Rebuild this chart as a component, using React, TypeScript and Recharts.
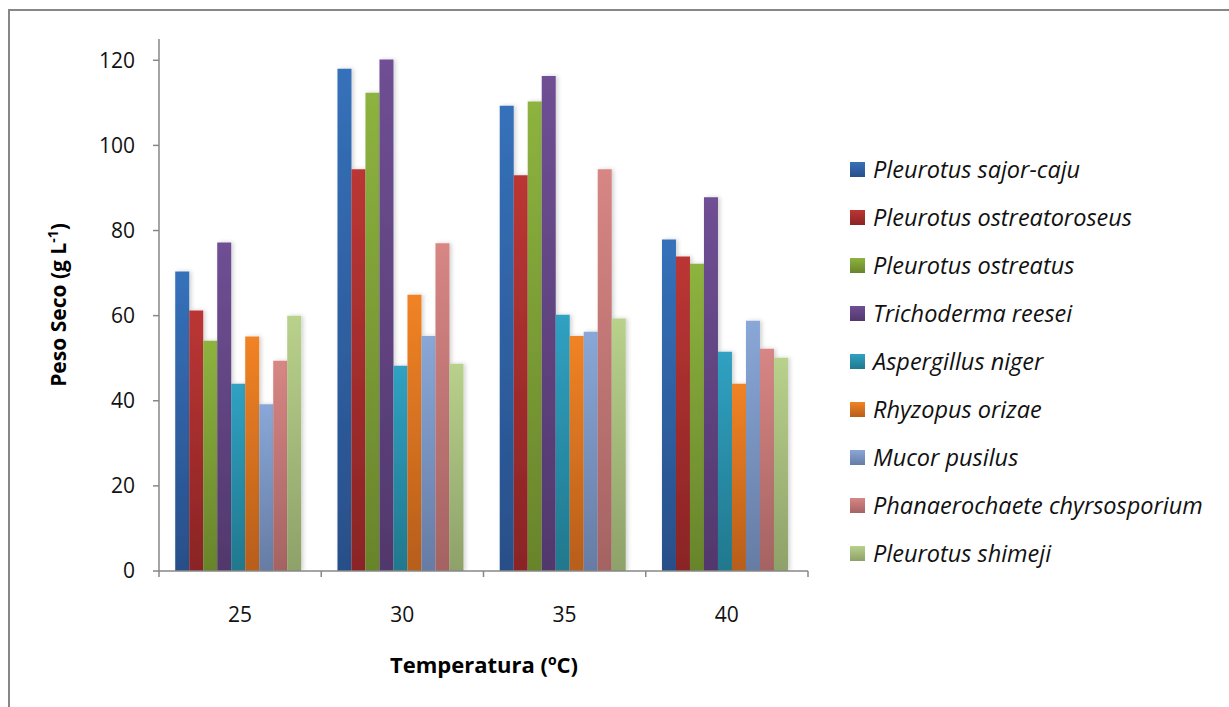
import React from 'react';
import { BarChart, Bar, XAxis, YAxis } from 'recharts';

// temperatures (°C)
const temperatures = ['25', '30', '35', '40'];

// dry weight (g/L) per fungus, one value per temperature
const sajorCaju = [70.4, 118.0, 109.3, 77.9];
const ostreatoroseus = [61.2, 94.4, 93.0, 73.9];
const ostreatus = [54.1, 112.4, 110.3, 72.2];
const reesei = [77.2, 120.2, 116.3, 87.8];
const niger = [44.0, 48.2, 60.2, 51.5];
const orizae = [55.1, 64.9, 55.2, 44.0];
const pusilus = [39.2, 55.2, 56.2, 58.8];
const chrysosporium = [49.4, 77.0, 94.4, 52.2];
const shimeji = [60.0, 48.7, 59.3, 50.1];

const yTicks = [0, 20, 40, 60, 80, 100, 120];

const series = [
  { key: 'sajorCaju', name: 'Pleurotus sajor-caju', values: sajorCaju, top: '#3571ba', bottom: '#284f89' },
  { key: 'ostreatoroseus', name: 'Pleurotus ostreatoroseus', values: ostreatoroseus, top: '#bb3634', bottom: '#8a2425' },
  { key: 'ostreatus', name: 'Pleurotus ostreatus', values: ostreatus, top: '#8db33f', bottom: '#68842b' },
  { key: 'reesei', name: 'Trichoderma reesei', values: reesei, top: '#6f4f94', bottom: '#51386c' },
  { key: 'niger', name: 'Aspergillus niger', values: niger, top: '#30a1c2', bottom: '#21788d' },
  { key: 'orizae', name: 'Rhyzopus orizae', values: orizae, top: '#f18325', bottom: '#b75e1b' },
  { key: 'pusilus', name: 'Mucor pusilus', values: pusilus, top: '#89a7d7', bottom: '#667ca4' },
  { key: 'chrysosporium', name: 'Phanaerochaete chyrsosporium', values: chrysosporium, top: '#d78684', bottom: '#a46362' },
  { key: 'shimeji', name: 'Pleurotus shimeji', values: shimeji, top: '#b8d18b', bottom: '#8ea169' },
];

const data = temperatures.map((t, i) => {
  const row: Record<string, string | number> = { temp: t };
  series.forEach(s => { row[s.key] = s.values[i]; });
  return row;
});

const W = 1229;
const H = 707;
const X_AXIS_H = 136;
const margin = { top: 39, right: 421, bottom: 0, left: 0 };
const Y_AXIS_W = 159;
const PLOT_W = W - margin.left - margin.right - Y_AXIS_W;
const BAND = PLOT_W / temperatures.length;
const AXIS_Y = H - X_AXIS_H;
const FONT = '"Open Sans", sans-serif';
const GRAY = '#878787';

const XTick = (props: any) => {
  const { x, payload, index } = props;
  return (
    <g>
      <line x1={x - BAND / 2} x2={x - BAND / 2} y1={AXIS_Y} y2={AXIS_Y + 6} stroke={GRAY} strokeWidth={1.5} />
      {index === temperatures.length - 1 && (
        <line x1={x + BAND / 2} x2={x + BAND / 2} y1={AXIS_Y} y2={AXIS_Y + 6} stroke={GRAY} strokeWidth={1.5} />
      )}
      <text x={x} y={AXIS_Y + 51} textAnchor="middle" fontSize={21} fontFamily={FONT} fill="#111">
        {payload.value}
      </text>
    </g>
  );
};

const YTitle = () => (
  <text
    transform={`translate(66, 305) rotate(-90)`}
    textAnchor="middle"
    fontSize={21}
    fontWeight="bold"
    fontFamily={FONT}
    fill="#000"
  >
    Peso Seco (g L
    <tspan dy={-8} fontSize={14}>-1</tspan>
    <tspan dy={8}>)</tspan>
  </text>
);

const XTitle = () => (
  <text
    x={484}
    y={673}
    textAnchor="middle"
    fontSize={22}
    fontWeight="bold"
    fontFamily={FONT}
    fill="#000"
  >
    Temperatura  (
    <tspan dy={-8} fontSize={14}>o</tspan>
    <tspan dy={8}>C)</tspan>
  </text>
);

const App: React.FC = () => {
  return (
    <div style={{ position: 'relative', width: W, height: H, overflow: 'hidden' }}>
      <style>{`body{margin:0}`}</style>
      <div
        style={{
          position: 'absolute',
          left: 8,
          top: 9,
          width: W,
          height: H,
          borderLeft: `2px solid ${GRAY}`,
          borderTop: `2px solid ${GRAY}`,
        }}
      />
      <div style={{ position: 'absolute', left: 0, top: 0 }}>
        <BarChart width={W} height={H} data={data} margin={margin} barCategoryGap="10%" barGap={0}>
          <defs>
            {series.map(s => (
              <linearGradient key={s.key} id={`g-${s.key}`} x1="0" y1="0" x2="0" y2="1">
                <stop offset="0%" stopColor={s.top} />
                <stop offset="100%" stopColor={s.bottom} />
              </linearGradient>
            ))}
            <filter id="shadow" x="-20%" y="-5%" width="160%" height="110%">
              <feDropShadow dx={2} dy={0} stdDeviation={2} floodColor="#000" floodOpacity={0.18} />
            </filter>
          </defs>
          <XAxis
            dataKey="temp"
            axisLine={{ stroke: GRAY, strokeWidth: 1.5 }}
            tickLine={false}
            tick={<XTick />}
            height={X_AXIS_H}
            interval={0}
          />
          <YAxis
            domain={[0, 125]}
            ticks={yTicks}
            width={Y_AXIS_W}
            axisLine={{ stroke: GRAY, strokeWidth: 1.5 }}
            tickLine={{ stroke: GRAY, strokeWidth: 1.5 }}
            tickSize={6}
            tickMargin={18}
            tick={{ fontSize: 21, fontFamily: FONT, fill: '#111' }}
            allowDataOverflow
          />
          {series.map(s => (
            <Bar
              key={s.key}
              dataKey={s.key}
              name={s.name}
              fill={`url(#g-${s.key})`}
              filter="url(#shadow)"
              isAnimationActive={false}
            />
          ))}
          <YTitle />
          <XTitle />
        </BarChart>
      </div>
      <div style={{ position: 'absolute', left: 850, top: 145, fontFamily: FONT }}>
        {series.map(s => (
          <div key={s.key} style={{ display: 'flex', alignItems: 'center', height: 48 }}>
            <span
              style={{
                display: 'inline-block',
                width: 15,
                height: 15,
                background: `linear-gradient(${s.top}, ${s.bottom})`,
                marginRight: 8,
              }}
            />
            <span style={{ fontStyle: 'italic', fontSize: 23.5, color: '#111', whiteSpace: 'nowrap' }}>{s.name}</span>
          </div>
        ))}
      </div>
    </div>
  );
};

export default App;
